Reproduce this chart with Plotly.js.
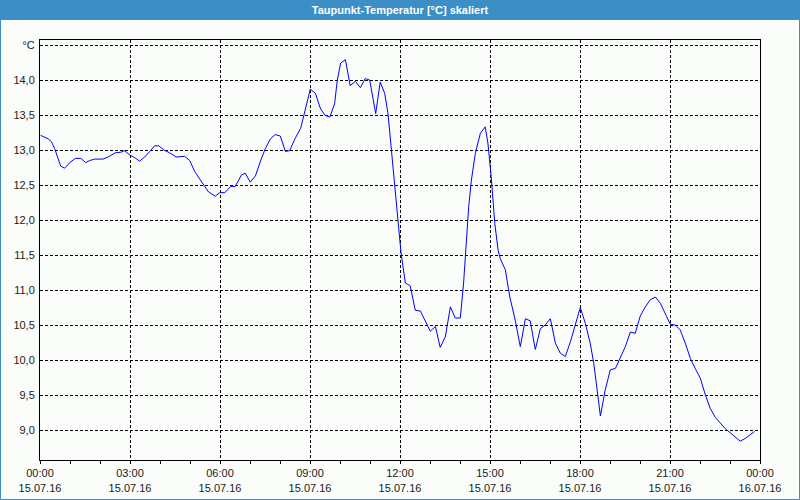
<!DOCTYPE html>
<html>
<head>
<meta charset="utf-8">
<script src="https://cdn.plot.ly/plotly-3.0.1.min.js"></script>
<style>
html,body{margin:0;padding:0;background:#fbfdfb;}
#chart{width:800px;height:500px;}
</style>
</head>
<body>
<div id="chart"></div>
<script>
// time in hours after 15.07.16 00:00
const hours = [0.02,0.27,0.38,0.49,0.6,0.69,0.82,0.99,1.18,1.36,1.52,1.66,1.82,2.1,2.27,2.51,2.71,2.82,2.99,3.16,3.32,3.49,3.66,3.82,3.96,4.13,4.32,4.54,4.82,4.99,5.16,5.32,5.49,5.62,5.77,5.84,5.99,6.16,6.36,6.51,6.71,6.84,7.01,7.18,7.34,7.51,7.68,7.84,8.01,8.18,8.32,8.51,8.69,8.84,9.01,9.18,9.34,9.49,9.66,9.82,9.91,10.02,10.18,10.34,10.51,10.68,10.84,10.99,11.19,11.34,11.49,11.6,11.71,11.82,11.93,12.03,12.1,12.18,12.34,12.51,12.68,12.84,13.01,13.18,13.34,13.51,13.68,13.84,14.01,14.12,14.21,14.29,14.38,14.51,14.68,14.84,14.93,15.04,15.16,15.27,15.34,15.51,15.66,15.84,16.01,16.18,16.34,16.51,16.68,16.84,17.01,17.18,17.34,17.51,17.68,17.84,18.01,18.18,18.34,18.46,18.57,18.68,18.84,19.01,19.18,19.34,19.51,19.68,19.84,20.01,20.18,20.34,20.51,20.68,20.84,21.01,21.18,21.34,21.51,21.68,21.84,22.01,22.18,22.34,22.51,22.68,22.84,23.01,23.18,23.34,23.51,23.68,23.82];
const dewpoint = [13.21,13.16,13.12,13.02,12.88,12.77,12.74,12.82,12.88,12.88,12.82,12.85,12.87,12.87,12.90,12.96,12.97,12.99,12.93,12.89,12.84,12.90,12.98,13.06,13.06,13.00,12.96,12.90,12.91,12.85,12.69,12.58,12.48,12.40,12.35,12.34,12.39,12.39,12.48,12.48,12.64,12.67,12.54,12.63,12.83,13.02,13.16,13.22,13.20,12.98,12.99,13.17,13.31,13.57,13.87,13.81,13.60,13.50,13.47,13.66,14.00,14.24,14.29,13.92,13.98,13.89,14.02,14.00,13.52,13.97,13.81,13.52,13.00,12.48,11.97,11.55,11.33,11.10,11.06,10.71,10.70,10.55,10.41,10.48,10.18,10.33,10.76,10.60,10.60,11.10,11.67,12.19,12.57,12.95,13.24,13.33,13.10,12.62,11.95,11.57,11.45,11.29,10.90,10.57,10.19,10.59,10.56,10.15,10.45,10.50,10.59,10.24,10.10,10.05,10.26,10.50,10.75,10.52,10.24,9.95,9.57,9.20,9.57,9.86,9.88,10.02,10.19,10.40,10.38,10.63,10.76,10.86,10.90,10.81,10.67,10.51,10.50,10.43,10.24,10.02,9.88,9.74,9.50,9.31,9.18,9.10,9.02,8.96,8.90,8.84,8.88,8.93,8.98];

const xTickVals = [0,3,6,9,12,15,18,21,24];
const xTickText = ['00:00<br>15.07.16','03:00<br>15.07.16','06:00<br>15.07.16','09:00<br>15.07.16','12:00<br>15.07.16','15:00<br>15.07.16','18:00<br>15.07.16','21:00<br>15.07.16','00:00<br>16.07.16'];
const yTickVals = [9.0,9.5,10.0,10.5,11.0,11.5,12.0,12.5,13.0,13.5,14.0,14.5];
const yTickText = ['9,0','9,5','10,0','10,5','11,0','11,5','12,0','12,5','13,0','13,5','14,0','°C'];
const chartTitle = 'Taupunkt-Temperatur [°C] skaliert';

const W = 800, H = 500, L = 40, R = 40, T = 40, B = 40;
const pw = W - L - R, ph = H - T - B;
const px = v => (v - L) / pw;          // figure px -> paper x
const py = v => 1 - (v - T) / ph;      // figure px -> paper y

const trace = {
  x: hours, y: dewpoint, type: 'scatter', mode: 'lines',
  line: {color: '#0000ff', width: 1}, hoverinfo: 'skip'
};

const font = {family: 'Liberation Sans, Arial, sans-serif', size: 11, color: '#1a1a1a'};

const layout = {
  width: W, height: H,
  margin: {l: L, r: R, t: T, b: B, pad: 0},
  paper_bgcolor: '#fbfdfb', plot_bgcolor: '#fbfdfb',
  showlegend: false,
  font: font,
  title: {
    text: chartTitle, x: 0.5, xref: 'container', xanchor: 'center',
    y: 1 - 10/H, yref: 'container', yanchor: 'middle',
    font: {family: 'Liberation Sans, Arial, sans-serif', size: 11, color: '#ffffff', weight: 'bold'}
  },
  xaxis: {
    range: [0, 24], tickmode: 'array', tickvals: xTickVals, ticktext: xTickText,
    ticks: 'outside', ticklen: 3, tickcolor: '#000', tickwidth: 1,
    showgrid: true, gridcolor: '#000', gridwidth: 1, griddash: '3px,2px',
    showline: true, linecolor: '#000', linewidth: 1, mirror: true,
    zeroline: false, tickangle: 0, tickfont: font,
    minor: {dtick: 1, tick0: 0, ticks: 'outside', ticklen: 3, tickcolor: '#000', showgrid: false}
  },
  yaxis: {
    range: [9.0 - 30/70, 9.0 + 390/70], tickmode: 'array', tickvals: yTickVals, ticktext: yTickText,
    ticks: '', showgrid: true, gridcolor: '#000', gridwidth: 1, griddash: '3px,2px',
    showline: true, linecolor: '#000', linewidth: 1, mirror: true,
    zeroline: false, tickfont: font, ticklabelstandoff: 2
  },
  shapes: [
    {type: 'rect', xref: 'paper', yref: 'paper', layer: 'below',
     x0: px(0), x1: px(W), y0: py(20), y1: py(0),
     fillcolor: '#3c8fc6', line: {width: 0}},
    {type: 'rect', xref: 'paper', yref: 'paper', layer: 'below',
     x0: px(0.5), x1: px(W - 0.5), y0: py(H - 0.5), y1: py(0.5),
     fillcolor: 'rgba(0,0,0,0)', line: {color: '#3c8fc6', width: 1}}
  ]
};

Plotly.newPlot('chart', [trace], layout, {displayModeBar: false, staticPlot: true});
</script>
</body>
</html>
